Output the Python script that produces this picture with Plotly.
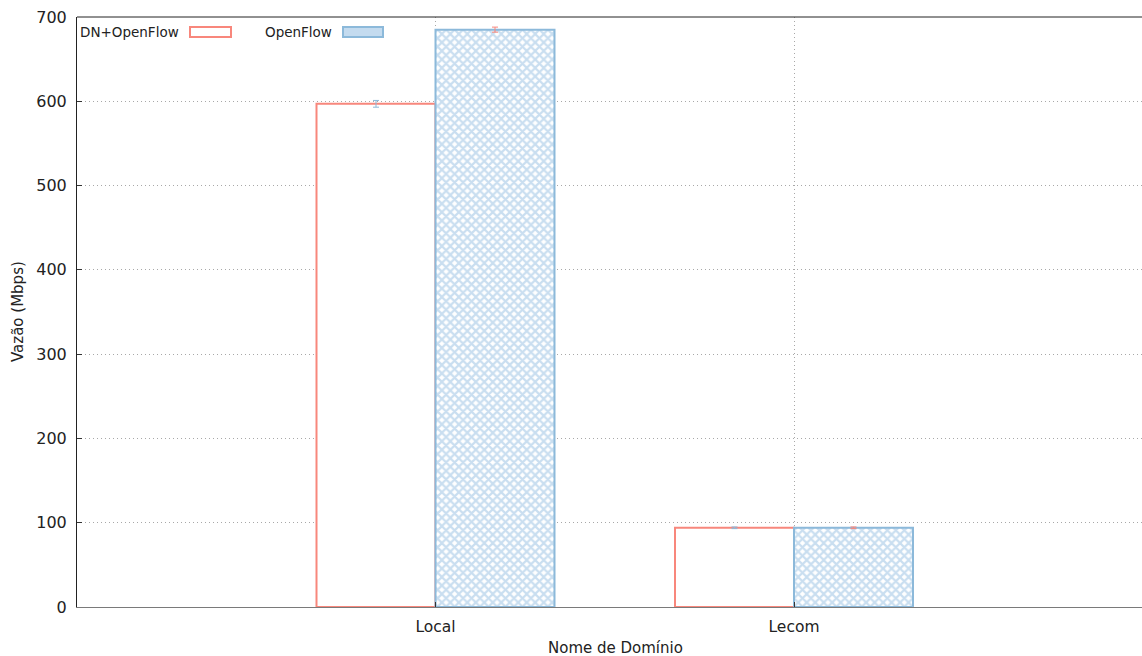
import plotly.graph_objects as go

# Throughput per domain name (Mbps) with error margins
domains = ["Local", "Lecom"]
dn_openflow = [597, 94]
dn_openflow_err = [4, 1]
openflow = [685, 94]
openflow_err = [3, 1]
y_ticks = [0, 100, 200, 300, 400, 500, 600, 700]

red = "#f8877c"
blue = "#8cb9da"
font_family = "DejaVu Sans"
grid_col = "#a8a8a8"

x_pos = list(range(1, len(domains) + 1))

fig = go.Figure()
fig.add_trace(go.Bar(
    x=x_pos, y=dn_openflow, name="DN+OpenFlow",
    marker=dict(color="white", line=dict(color=red, width=2)),
    error_y=dict(type="data", array=dn_openflow_err, color=blue, thickness=1, width=3),
))
fig.add_trace(go.Bar(
    x=x_pos, y=openflow, name="OpenFlow",
    marker=dict(color="white", line=dict(color=blue, width=2),
                pattern=dict(shape="x", fgcolor="#93bde1", bgcolor="white",
                             size=6, solidity=0.6)),
    error_y=dict(type="data", array=openflow_err, color=red, thickness=1, width=3),
))

W, H = 1142, 656
L, R, T, B = 77, 0, 17, 49
unit = 358.5  # pixels per category step
x_max = (W - L - R) / unit

fig.update_layout(
    width=W, height=H,
    margin=dict(l=L, r=R, t=T, b=B),
    paper_bgcolor="white", plot_bgcolor="white",
    barmode="group", bargap=1 - 2 * 119 / unit, bargroupgap=0,
    showlegend=False,
    font=dict(family=font_family, color="#222", size=16),
)
fig.update_xaxes(
    range=[0, x_max], tickvals=x_pos, ticktext=domains,
    showgrid=True, gridcolor=grid_col, griddash="1px,3px", gridwidth=1,
    showline=True, linecolor="#7a7a7a", linewidth=1,
    ticks="inside", ticklen=5, tickcolor="#333",
    tickfont=dict(size=15.5), ticklabelstandoff=5, zeroline=False,
)
fig.update_yaxes(
    range=[0, 700], tickvals=y_ticks,
    showgrid=True, gridcolor=grid_col, griddash="1px,3px", gridwidth=1,
    showline=True, linecolor="#222", linewidth=1,
    ticks="inside", ticklen=5, tickcolor="#333",
    tickfont=dict(size=16), ticklabelstandoff=6, zeroline=False,
)

pw, ph = W - L - R, H - T - B
def px(xp):
    return (xp - L) / pw
def py(yp):
    return 1 - (yp - T) / ph

# Top border
fig.add_shape(type="line", xref="paper", yref="paper", x0=0, x1=1, y0=1, y1=1,
              line=dict(color="#222", width=1))

# Axis titles
fig.add_annotation(text="Nome de Domínio", xref="paper", yref="paper",
                   x=px(615), y=py(648), showarrow=False, font=dict(size=15),
                   xanchor="center", yanchor="middle")
fig.add_annotation(text="Vazão (Mbps)", xref="paper", yref="paper",
                   x=px(18), y=0.5, textangle=-90,
                   showarrow=False, font=dict(size=15), xanchor="center", yanchor="middle")

# Key: label followed by its sample box, laid out left to right
fig.add_annotation(text="DN+OpenFlow", xref="paper", yref="paper",
                   x=px(181), y=py(32), xanchor="right", yanchor="middle",
                   showarrow=False, font=dict(size=13.5))
fig.add_shape(type="rect", xref="paper", yref="paper",
              x0=px(190), x1=px(231), y0=py(37), y1=py(27),
              line=dict(color=red, width=2), fillcolor="white")
fig.add_annotation(text="OpenFlow", xref="paper", yref="paper",
                   x=px(334), y=py(32), xanchor="right", yanchor="middle",
                   showarrow=False, font=dict(size=13.5))
fig.add_shape(type="rect", xref="paper", yref="paper",
              x0=px(343), x1=px(383), y0=py(37), y1=py(27),
              line=dict(color=blue, width=2), fillcolor="#c4dbef")

fig.write_html("out.html")
